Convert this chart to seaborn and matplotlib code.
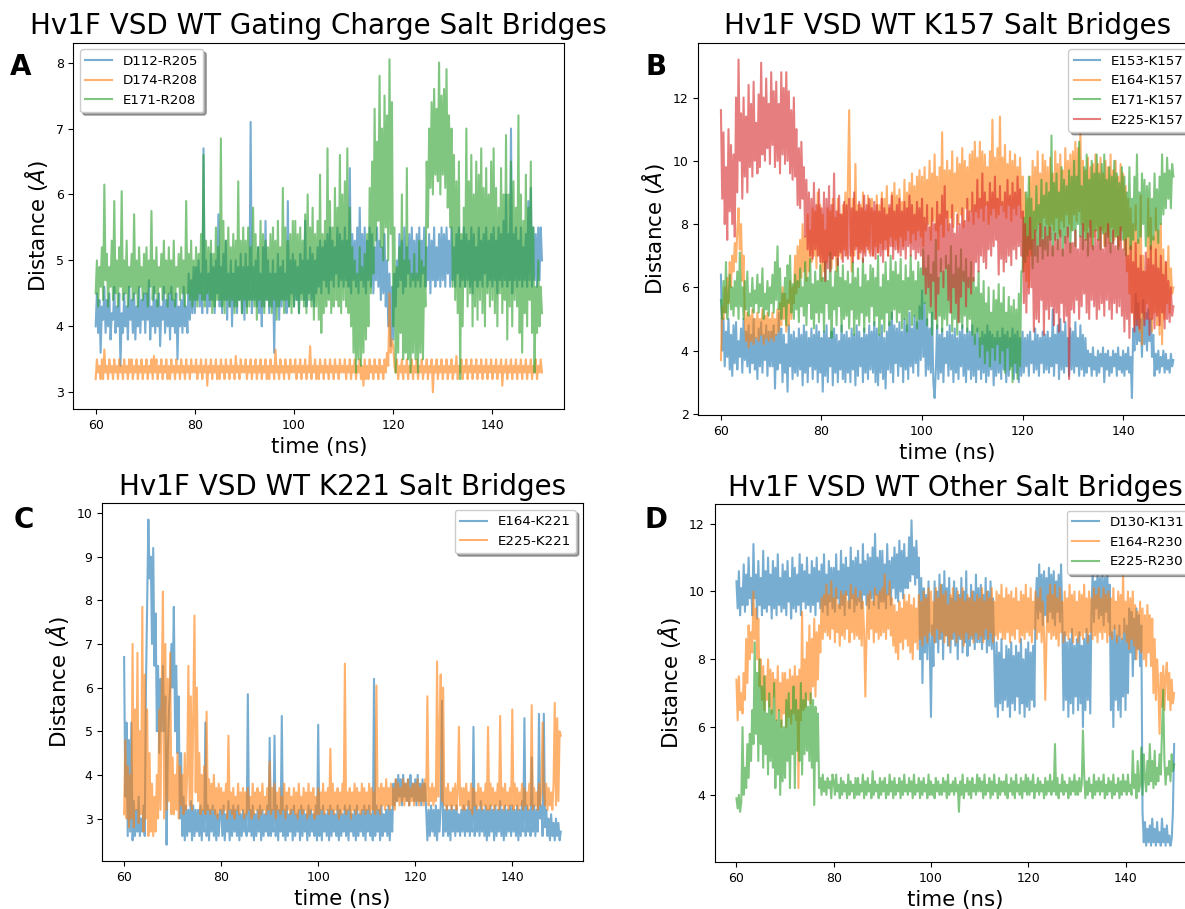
import numpy as np
import pandas as pd
import matplotlib
matplotlib.use("Agg")
import matplotlib.pyplot as plt
from matplotlib.lines import Line2D
import seaborn as sns

# Salt-bridge distances (Å), one value every 0.25 ns from 60 to 150 ns
# (each row below covers 5 ns).

# --- Panel A: gating charge salt bridges ---
d112_r205 = [
    4.0, 4.5, 3.9, 4.4, 3.6, 4.3, 4.1, 4.6, 3.9, 4.4, 4.0, 4.5, 3.8, 4.2, 4.1, 4.6, 3.9, 4.3, 4.0, 4.5,
    3.4, 4.2, 3.9, 4.5, 4.0, 4.3, 3.8, 4.6, 4.1, 4.4, 3.9, 4.5, 3.8, 4.3, 4.0, 4.6, 3.9, 4.4, 4.1, 4.5,
    3.9, 4.5, 4.1, 4.7, 3.8, 4.3, 4.0, 4.6, 3.9, 4.4, 4.0, 4.5, 3.7, 4.3, 4.1, 4.6, 3.9, 4.4, 4.0, 4.5,
    3.8, 4.6, 4.0, 4.4, 3.9, 4.5, 3.5, 4.3, 4.0, 4.4, 3.9, 4.6, 4.0, 4.3, 3.9, 4.8, 4.1, 4.7, 4.2, 4.9,
    4.2, 4.9, 4.4, 5.0, 4.3, 4.8, 4.2, 6.7, 4.4, 5.0, 4.2, 4.8, 4.3, 5.1, 4.4, 4.9, 4.2, 5.0, 4.5, 5.7,
    4.3, 4.9, 4.2, 5.1, 4.4, 5.3, 4.1, 4.8, 4.3, 5.0, 4.0, 4.8, 4.3, 5.0, 4.2, 4.9, 4.4, 5.1, 4.2, 4.9,
    4.1, 5.1, 4.3, 4.9, 4.4, 7.1, 4.2, 4.9, 4.4, 5.0, 4.3, 5.2, 4.2, 4.8, 4.0, 5.2, 4.3, 5.6, 4.4, 5.0,
    4.2, 4.8, 4.3, 5.0, 3.6, 4.8, 4.3, 5.1, 4.1, 4.9, 4.3, 5.0, 4.4, 4.8, 4.2, 5.9, 4.3, 5.0, 4.5, 5.1,
    4.3, 5.0, 4.4, 4.9, 4.2, 5.1, 4.5, 5.0, 4.4, 5.6, 4.3, 5.0, 4.5, 5.2, 4.4, 5.1, 4.3, 5.0, 4.5, 5.2,
    4.6, 5.3, 4.5, 5.2, 4.7, 5.3, 4.6, 5.4, 4.5, 5.5, 4.7, 5.3, 4.6, 5.2, 4.8, 5.5, 4.6, 5.4, 4.7, 5.3,
    4.6, 5.5, 4.7, 5.3, 4.6, 6.4, 4.5, 5.4, 4.7, 5.3, 4.6, 5.5, 4.5, 5.8, 4.7, 5.4, 4.6, 5.5, 4.5, 5.3,
    4.7, 5.5, 4.6, 5.4, 4.5, 5.2, 4.7, 5.5, 4.6, 5.3, 4.4, 5.2, 4.5, 5.4, 4.3, 5.0, 4.0, 4.8, 3.7, 4.6,
    3.8, 4.8, 4.3, 5.0, 4.6, 5.4, 4.7, 5.3, 4.5, 5.5, 4.6, 5.2, 4.8, 5.4, 4.6, 5.5, 4.7, 5.3, 4.6, 5.4,
    4.7, 5.5, 4.6, 5.3, 4.8, 5.5, 4.6, 5.2, 4.7, 5.4, 4.5, 5.3, 4.7, 5.5, 4.6, 5.2, 4.7, 5.4, 4.6, 5.5,
    4.7, 5.4, 4.6, 5.5, 4.8, 5.3, 4.6, 5.5, 4.7, 5.2, 4.6, 5.4, 4.8, 5.5, 4.6, 5.3, 4.7, 5.5, 4.6, 5.4,
    4.7, 5.3, 4.6, 5.5, 4.5, 5.4, 4.7, 5.2, 4.6, 5.5, 4.7, 5.3, 4.6, 5.4, 4.8, 5.5, 4.6, 5.3, 4.7, 5.4,
    4.6, 5.5, 4.7, 5.3, 4.5, 5.5, 4.7, 5.4, 4.6, 5.6, 4.7, 6.0, 4.6, 5.4, 4.7, 7.0, 4.5, 5.4, 4.7, 5.5,
    4.6, 5.3, 4.7, 5.5, 4.6, 5.2, 4.7, 5.4, 4.6, 5.9, 4.7, 6.1, 4.6, 5.5, 4.7, 5.4, 4.6, 5.5, 4.7, 5.5,
    5.0,
]
d174_r208 = [
    3.2, 3.5, 3.3, 3.4, 3.2, 3.5, 3.2, 3.65, 3.3, 3.4, 3.2, 3.5, 3.3, 3.4, 3.2, 3.5, 3.3, 3.4, 3.2, 3.5,
    3.3, 3.4, 3.2, 3.5, 3.3, 3.4, 3.2, 3.5, 3.3, 3.5, 3.2, 3.4, 3.3, 3.5, 3.2, 3.4, 3.3, 3.5, 3.2, 3.4,
    3.3, 3.5, 3.2, 3.4, 3.3, 3.5, 3.2, 3.55, 3.3, 3.5, 3.2, 3.4, 3.3, 3.5, 3.2, 3.4, 3.3, 3.5, 3.2, 3.4,
    3.2, 3.5, 3.3, 3.4, 3.2, 3.5, 3.3, 3.4, 3.2, 3.5, 3.3, 3.4, 3.2, 3.5, 3.3, 3.4, 3.2, 3.5, 3.3, 3.4,
    3.3, 3.5, 3.2, 3.4, 3.3, 3.5, 3.2, 3.4, 3.3, 3.5, 3.1, 3.4, 3.3, 3.5, 3.2, 3.4, 3.3, 3.5, 3.2, 3.4,
    3.2, 3.5, 3.3, 3.4, 3.2, 3.5, 3.3, 3.4, 3.2, 3.5, 3.3, 3.4, 3.2, 3.55, 3.3, 3.4, 3.2, 3.5, 3.3, 3.4,
    3.3, 3.5, 3.2, 3.4, 3.3, 3.5, 3.2, 3.4, 3.3, 3.5, 3.2, 3.4, 3.3, 3.5, 3.2, 3.4, 3.3, 3.5, 3.2, 3.4,
    3.2, 3.5, 3.3, 3.4, 3.2, 3.65, 3.3, 3.4, 3.2, 3.5, 3.3, 3.4, 3.2, 3.5, 3.3, 3.4, 3.2, 3.5, 3.3, 3.4,
    3.3, 3.5, 3.2, 3.4, 3.3, 3.5, 3.2, 3.4, 3.3, 3.5, 3.2, 3.4, 3.3, 3.7, 3.2, 3.4, 3.3, 3.5, 3.2, 3.4,
    3.2, 3.5, 3.3, 3.4, 3.2, 3.5, 3.3, 3.4, 3.2, 3.5, 3.3, 3.4, 3.2, 3.5, 3.3, 3.4, 3.2, 3.5, 3.3, 3.4,
    3.3, 3.5, 3.2, 3.4, 3.3, 3.5, 3.2, 3.4, 3.3, 3.5, 3.2, 3.4, 3.3, 3.5, 3.2, 3.4, 3.1, 3.5, 3.2, 3.4,
    3.2, 3.5, 3.3, 3.4, 3.2, 3.5, 3.3, 3.4, 3.2, 3.5, 3.3, 3.4, 3.2, 3.5, 3.3, 3.6, 3.4, 4.5, 3.6, 3.8,
    3.7, 3.4, 3.3, 3.5, 3.2, 3.4, 3.3, 3.5, 3.2, 3.4, 3.3, 3.5, 3.2, 3.4, 3.3, 3.5, 3.2, 3.4, 3.3, 3.5,
    3.2, 3.4, 3.3, 3.5, 3.2, 3.4, 3.3, 3.5, 3.2, 3.4, 3.3, 3.5, 3.0, 3.4, 3.3, 3.5, 3.2, 3.4, 3.3, 3.5,
    3.2, 3.4, 3.3, 3.5, 3.2, 3.4, 3.3, 3.5, 3.2, 3.4, 3.3, 3.55, 3.2, 3.4, 3.3, 3.5, 3.2, 3.4, 3.3, 3.5,
    3.2, 3.4, 3.3, 3.5, 3.2, 3.4, 3.3, 3.5, 3.2, 3.4, 3.3, 3.5, 3.2, 3.4, 3.3, 3.5, 3.2, 3.4, 3.3, 3.5,
    3.2, 3.4, 3.3, 3.5, 3.2, 3.4, 3.3, 3.5, 3.1, 3.4, 3.3, 3.5, 3.2, 3.4, 3.3, 3.5, 3.2, 3.4, 3.3, 3.5,
    3.2, 3.4, 3.3, 3.5, 3.2, 3.4, 3.3, 3.5, 3.2, 3.4, 3.3, 3.5, 3.2, 3.4, 3.3, 3.5, 3.2, 3.4, 3.3, 3.5,
    3.3,
]
e171_r208 = [
    4.5, 5.0, 4.3, 4.9, 4.6, 5.2, 4.4, 6.15, 4.7, 5.1, 4.3, 4.9, 4.6, 5.3, 4.4, 5.9, 4.5, 5.0, 4.3, 5.2,
    4.6, 6.05, 4.4, 5.0, 4.5, 5.3, 4.3, 4.9, 4.6, 5.1, 4.4, 5.7, 4.5, 5.0, 4.3, 5.2, 4.6, 4.9, 4.4, 5.1,
    4.5, 5.2, 4.3, 5.0, 4.6, 5.75, 4.4, 5.0, 4.5, 5.2, 4.3, 4.9, 4.6, 5.1, 4.4, 5.3, 4.5, 5.0, 4.3, 5.2,
    4.5, 5.0, 4.4, 5.3, 4.3, 4.9, 4.6, 5.1, 4.4, 5.2, 4.5, 5.0, 4.3, 5.9, 4.5, 5.1, 4.4, 5.3, 4.3, 5.0,
    4.4, 5.2, 4.3, 5.1, 4.5, 5.4, 4.4, 6.6, 4.3, 5.3, 4.5, 5.2, 4.4, 5.3, 4.2, 5.1, 4.3, 5.5, 4.4, 5.2,
    4.4, 6.85, 4.3, 5.6, 4.2, 5.3, 4.4, 5.5, 4.3, 5.2, 4.4, 5.4, 4.2, 5.3, 4.3, 6.2, 4.4, 5.3, 4.2, 5.5,
    4.4, 5.3, 4.2, 5.5, 4.3, 5.2, 4.4, 5.8, 4.3, 5.4, 4.1, 5.2, 4.4, 5.6, 4.3, 5.4, 4.2, 5.3, 4.4, 5.2,
    4.3, 5.4, 4.2, 5.5, 4.4, 5.3, 4.1, 5.6, 4.3, 5.2, 4.4, 6.1, 4.2, 5.5, 4.4, 5.3, 4.3, 5.4, 4.2, 5.6,
    4.3, 5.6, 4.4, 5.4, 4.2, 5.5, 4.4, 5.3, 4.3, 5.7, 4.2, 6.0, 4.4, 5.5, 4.3, 5.8, 4.1, 5.4, 4.3, 5.6,
    4.1, 6.3, 3.9, 5.4, 4.2, 5.6, 4.3, 6.7, 4.4, 5.9, 4.2, 5.5, 4.3, 6.1, 4.4, 5.8, 4.3, 6.6, 4.2, 6.0,
    4.4, 6.2, 4.3, 6.7, 4.2, 5.8, 4.0, 5.2, 3.6, 5.0, 3.3, 4.8, 3.5, 5.2, 3.4, 4.9, 3.6, 5.1, 3.8, 5.4,
    4.0, 6.1, 4.5, 6.5, 4.8, 7.3, 5.3, 6.8, 5.6, 7.8, 5.2, 7.0, 5.0, 7.5, 5.5, 7.2, 5.0, 8.05, 5.4, 7.4,
    4.0, 5.5, 3.3, 4.9, 3.6, 5.2, 3.9, 6.0, 3.5, 5.0, 3.6, 6.4, 3.5, 5.0, 3.3, 4.8, 3.6, 5.1, 3.5, 4.8,
    3.3, 5.3, 3.6, 5.0, 3.5, 4.9, 4.3, 6.5, 5.5, 7.0, 6.1, 7.4, 6.0, 7.6, 6.3, 7.3, 6.2, 8.0, 6.0, 7.5,
    6.3, 7.6, 6.1, 7.9, 5.8, 7.2, 5.5, 7.0, 4.6, 6.6, 4.4, 6.2, 4.2, 6.5, 3.2, 5.4, 4.0, 5.8, 4.6, 7.0,
    4.3, 6.2, 4.5, 6.6, 4.0, 6.0, 4.3, 6.5, 4.1, 6.3, 4.4, 6.7, 4.2, 6.1, 4.0, 6.4, 4.5, 6.0, 4.3, 6.5,
    4.4, 6.7, 4.2, 6.1, 4.0, 5.8, 4.5, 6.4, 4.2, 6.0, 4.4, 6.9, 3.8, 6.0, 4.3, 6.5, 4.0, 6.2, 4.4, 5.8,
    4.3, 7.2, 3.9, 6.0, 3.6, 5.6, 4.2, 6.3, 4.0, 5.8, 4.4, 6.5, 3.9, 5.5, 3.3, 4.6, 3.9, 5.0, 4.0, 4.6,
    4.2,
]

# --- Panel B: K157 salt bridges ---
e153_k157 = [
    6.4, 4.0, 5.0, 3.5, 4.6, 3.8, 5.0, 3.4, 4.5, 3.2, 4.8, 3.6, 4.9, 3.4, 4.3, 3.8, 4.7, 3.3, 5.0, 3.7,
    4.6, 3.5, 4.8, 3.3, 4.5, 3.6, 5.0, 3.4, 4.4, 3.1, 4.7, 3.5, 4.9, 3.3, 4.5, 3.7, 4.8, 3.2, 4.6, 3.5,
    4.6, 3.5, 4.8, 2.8, 4.5, 3.4, 5.2, 3.6, 4.7, 3.0, 4.5, 3.3, 4.2, 2.7, 4.8, 3.5, 4.5, 3.1, 4.6, 3.3,
    4.4, 3.2, 4.7, 3.4, 4.5, 2.9, 4.8, 3.3, 4.6, 3.0, 4.4, 3.5, 4.7, 3.1, 4.5, 3.4, 4.8, 3.0, 4.6, 3.3,
    4.4, 2.7, 4.6, 3.2, 4.8, 3.0, 4.4, 3.5, 4.6, 2.9, 4.7, 3.3, 4.5, 3.0, 4.3, 3.4, 4.8, 3.1, 4.5, 3.0,
    4.6, 3.3, 4.4, 3.0, 4.7, 3.4, 4.5, 2.9, 4.8, 3.2, 4.6, 3.5, 4.4, 3.0, 4.7, 3.3, 4.5, 3.1, 4.8, 3.4,
    4.6, 3.3, 4.9, 3.0, 4.7, 2.9, 4.5, 3.3, 4.8, 3.1, 4.4, 2.8, 4.6, 3.4, 4.9, 3.3, 5.2, 3.0, 4.8, 3.6,
    4.7, 3.2, 4.9, 3.5, 4.6, 3.0, 5.0, 3.4, 4.8, 3.1, 5.2, 3.5, 4.7, 3.3, 5.1, 3.6, 4.9, 3.2, 5.4, 3.7,
    5.9, 3.8, 5.5, 3.2, 5.0, 3.4, 4.7, 3.3, 5.2, 3.0, 2.5, 3.4, 4.8, 3.1, 4.5, 3.3, 4.7, 3.0, 4.4, 3.6,
    4.6, 3.2, 4.8, 3.4, 4.5, 3.0, 4.7, 3.3, 4.4, 3.1, 4.6, 3.5, 4.8, 3.2, 4.5, 3.0, 4.7, 3.4, 4.6, 3.1,
    4.8, 3.2, 4.5, 3.0, 4.7, 3.4, 4.4, 3.1, 4.6, 3.3, 4.5, 3.0, 4.8, 3.2, 4.6, 3.4, 4.5, 2.9, 4.4, 3.2,
    4.6, 3.3, 4.4, 3.1, 4.7, 3.4, 4.5, 3.0, 4.6, 3.2, 4.4, 3.5, 4.7, 3.1, 4.5, 3.3, 4.6, 3.0, 4.4, 3.2,
    4.6, 3.3, 4.4, 3.5, 4.5, 3.2, 4.6, 3.6, 4.3, 3.3, 4.7, 3.4, 4.5, 3.2, 4.4, 3.6, 4.6, 3.3, 4.5, 3.4,
    4.6, 3.3, 4.4, 3.5, 5.3, 3.2, 4.5, 3.6, 4.8, 3.1, 5.0, 3.4, 4.6, 3.3, 4.9, 3.5, 4.4, 3.2, 4.7, 3.4,
    4.6, 3.3, 4.9, 3.5, 4.4, 3.2, 4.8, 3.4, 4.5, 3.2, 4.4, 3.3, 4.0, 3.5, 3.9, 3.2, 4.1, 3.4, 3.8, 3.2,
    4.0, 3.3, 3.9, 3.5, 4.1, 3.0, 3.9, 3.4, 4.0, 3.2, 3.8, 3.3, 4.0, 3.5, 3.9, 3.2, 4.1, 3.4, 3.8, 3.3,
    4.0, 3.2, 3.9, 3.4, 4.1, 3.3, 3.8, 2.5, 4.7, 4.0, 5.8, 4.2, 5.5, 4.3, 5.0, 3.8, 5.6, 4.2, 5.2, 4.0,
    5.3, 4.3, 5.0, 3.8, 4.5, 3.2, 3.9, 3.4, 4.0, 3.3, 3.8, 3.5, 4.0, 3.3, 3.9, 3.4, 3.7, 3.3, 3.9, 3.5,
    3.7,
]
e164_k157 = [
    3.7, 5.4, 5.0, 6.0, 5.2, 6.3, 5.5, 6.8, 6.0, 7.0, 6.5, 7.4, 6.8, 7.8, 8.5, 7.2, 8.0, 6.2, 7.0, 5.0,
    4.3, 5.2, 4.1, 5.1, 4.3, 5.3, 4.2, 5.0, 4.4, 5.2, 4.3, 5.0, 4.5, 5.3, 4.2, 5.1, 4.4, 5.2, 4.3, 5.0,
    4.4, 5.2, 4.3, 5.0, 4.5, 5.3, 4.6, 5.5, 4.8, 6.0, 5.0, 5.8, 4.6, 5.6, 4.8, 6.2, 5.0, 6.0, 5.5, 7.0,
    5.8, 7.3, 6.0, 7.5, 6.3, 8.0, 6.5, 7.6, 6.2, 8.3, 6.5, 7.8, 6.8, 8.5, 7.0, 8.4, 6.6, 9.0, 7.0, 8.6,
    6.2, 8.3, 6.5, 7.8, 6.8, 8.5, 7.0, 8.4, 6.6, 8.8, 7.0, 8.2, 6.5, 8.8, 7.0, 8.3, 6.9, 8.6, 7.2, 9.0,
    7.0, 9.2, 11.6, 8.2, 6.5, 8.8, 7.0, 9.9, 7.3, 8.6, 6.9, 8.6, 7.2, 9.0, 7.1, 8.4, 7.3, 8.9, 7.1, 8.6,
    8.8, 7.0, 8.4, 7.3, 8.9, 7.1, 8.6, 7.4, 9.0, 7.2, 8.8, 7.5, 9.2, 7.0, 8.5, 7.6, 9.0, 7.3, 9.3, 7.5,
    8.9, 7.2, 9.1, 7.6, 8.7, 7.3, 9.4, 7.5, 9.0, 7.8, 9.3, 7.4, 9.6, 7.7, 9.2, 7.5, 9.5, 7.8, 9.7, 7.6,
    9.5, 7.3, 9.8, 7.8, 9.4, 8.0, 10.0, 7.5, 9.6, 8.1, 10.2, 7.8, 9.5, 7.2, 9.8, 8.0, 10.9, 7.6, 9.7, 8.2,
    10.0, 7.8, 9.7, 8.2, 10.3, 7.9, 9.6, 8.4, 10.1, 8.0, 9.9, 8.3, 10.4, 7.9, 10.0, 8.5, 9.8, 8.1, 10.2, 8.4,
    10.3, 8.0, 10.6, 8.4, 10.1, 8.2, 10.6, 8.5, 10.3, 8.1, 10.2, 8.6, 9.8, 8.0, 10.3, 8.3, 11.3, 8.5, 10.1, 8.2,
    10.4, 8.3, 11.4, 8.6, 10.1, 8.4, 10.5, 8.2, 9.9, 8.6, 10.3, 8.1, 10.0, 8.5, 10.2, 8.3, 9.8, 8.6, 10.1, 8.2,
    9.5, 6.5, 9.0, 6.2, 8.8, 6.0, 9.5, 7.0, 10.0, 7.5, 9.8, 7.8, 10.3, 8.0, 9.6, 7.6, 10.2, 8.2, 10.0, 8.0,
    9.8, 7.6, 10.1, 8.0, 9.6, 7.8, 10.3, 8.2, 9.9, 7.7, 10.2, 8.1, 9.7, 7.9, 10.4, 8.3, 10.0, 8.0, 10.2, 7.8,
    10.3, 8.3, 10.6, 8.1, 10.4, 8.4, 11.0, 8.0, 10.0, 7.8, 9.7, 7.5, 10.1, 7.9, 9.8, 7.3, 9.9, 7.6, 10.2, 7.8,
    9.9, 7.5, 10.1, 7.8, 9.6, 7.3, 10.0, 7.7, 9.8, 7.4, 10.2, 7.9, 9.7, 7.5, 10.0, 7.6, 9.5, 7.3, 9.9, 7.8,
    9.6, 7.2, 9.2, 6.5, 8.8, 5.8, 8.5, 5.2, 8.0, 4.8, 8.6, 5.0, 7.5, 4.6, 8.9, 4.2, 7.0, 5.0, 6.5, 5.5,
    8.8, 5.0, 8.2, 4.6, 7.6, 5.2, 8.5, 4.8, 7.8, 4.5, 8.0, 4.2, 7.2, 5.0, 6.8, 5.5, 7.3, 5.2, 6.6, 5.8,
    6.0,
]
e171_k157 = [
    5.6, 5.0, 6.2, 5.2, 6.8, 5.0, 5.6, 6.4, 5.3, 6.0, 5.1, 6.2, 5.4, 6.5, 5.0, 7.1, 5.4, 6.0, 5.0, 6.2,
    5.3, 6.5, 5.1, 5.8, 5.4, 6.3, 5.2, 5.9, 5.5, 6.4, 5.2, 6.1, 5.4, 6.6, 5.0, 5.8, 5.3, 6.2, 5.1, 6.0,
    5.5, 6.4, 5.2, 6.8, 5.6, 7.3, 5.3, 6.6, 5.0, 5.8, 5.4, 6.3, 4.8, 6.7, 5.5, 7.0, 5.2, 6.1, 5.0, 6.4,
    5.3, 6.2, 4.9, 6.6, 5.4, 6.0, 5.1, 6.8, 4.8, 6.3, 5.5, 6.9, 5.0, 6.1, 4.7, 6.5, 5.2, 6.2, 4.9, 6.7,
    5.2, 6.3, 4.6, 6.8, 5.5, 6.2, 5.0, 7.1, 4.4, 6.0, 5.3, 6.5, 4.8, 6.9, 5.4, 6.3, 4.6, 6.7, 5.0, 6.2,
    5.1, 6.5, 4.7, 6.1, 5.3, 6.8, 4.5, 6.3, 5.0, 6.6, 4.8, 6.0, 5.2, 6.9, 4.6, 6.4, 5.1, 6.2, 4.9, 6.7,
    5.4, 6.6, 4.8, 6.3, 5.1, 7.0, 4.5, 6.0, 5.0, 6.4, 4.6, 6.8, 5.2, 6.2, 4.8, 7.0, 5.0, 6.5, 5.3, 6.8,
    4.9, 6.4, 5.2, 6.9, 4.7, 6.2, 5.0, 6.7, 4.6, 6.3, 5.3, 7.0, 4.8, 6.5, 5.1, 6.2, 4.7, 6.8, 5.0, 6.6,
    5.0, 7.2, 5.5, 6.6, 4.8, 7.0, 5.2, 6.4, 4.5, 6.8, 5.0, 7.5, 4.7, 6.3, 5.1, 6.9, 4.6, 6.5, 5.0, 7.0,
    4.8, 6.7, 5.2, 7.3, 4.6, 6.4, 5.0, 7.0, 4.5, 6.6, 4.9, 7.2, 4.7, 6.5, 5.1, 6.9, 4.6, 6.3, 5.0, 6.8,
    4.5, 6.3, 4.2, 6.0, 4.6, 6.5, 3.8, 5.8, 4.2, 6.2, 3.6, 5.5, 4.0, 6.0, 3.5, 5.2, 4.1, 5.9, 3.7, 5.6,
    4.2, 6.1, 3.6, 5.5, 4.0, 6.0, 3.3, 5.2, 4.1, 5.7, 3.4, 5.4, 3.0, 5.6, 3.6, 5.3, 3.1, 5.8, 3.5, 6.5,
    6.5, 8.2, 6.8, 9.0, 7.0, 9.5, 7.2, 8.8, 6.6, 8.4, 7.0, 9.2, 6.8, 8.6, 7.3, 9.4, 6.9, 8.9, 7.2, 9.3,
    7.0, 9.0, 7.5, 10.8, 7.0, 9.3, 7.5, 9.6, 7.2, 9.0, 7.6, 9.8, 7.0, 9.4, 7.4, 9.2, 7.6, 9.7, 7.1, 9.5,
    7.8, 10.0, 7.3, 9.5, 8.0, 10.6, 7.6, 9.2, 7.2, 9.8, 7.5, 10.2, 7.0, 9.4, 7.6, 10.0, 7.2, 9.6, 7.8, 10.2,
    7.5, 9.6, 7.2, 9.9, 7.7, 10.2, 7.3, 9.4, 7.6, 9.8, 7.1, 9.5, 7.4, 10.0, 7.6, 9.6, 7.2, 9.3, 7.5, 9.8,
    7.5, 9.5, 7.0, 9.0, 7.6, 9.8, 7.2, 8.8, 7.5, 9.5, 7.8, 10.2, 7.4, 9.0, 7.6, 9.6, 8.0, 9.4, 7.3, 9.2,
    7.6, 9.3, 7.2, 8.8, 7.5, 9.6, 7.8, 9.1, 7.4, 9.5, 8.0, 10.2, 8.3, 9.6, 8.5, 10.1, 8.8, 9.7, 8.5, 9.9,
    9.5,
]
e225_k157 = [
    11.6, 8.8, 10.9, 8.0, 9.8, 7.5, 11.0, 8.4, 10.5, 8.0, 10.2, 7.6, 12.0, 9.0, 13.2, 10.0, 11.5, 8.8, 12.0, 9.5,
    11.4, 9.0, 12.4, 9.8, 11.8, 9.5, 12.5, 10.0, 11.2, 9.6, 12.1, 9.8, 13.1, 10.2, 12.0, 10.0, 12.6, 10.4, 11.8, 9.9,
    12.8, 10.5, 12.2, 9.8, 12.5, 10.0, 11.8, 9.6, 12.8, 10.2, 12.3, 9.9, 12.8, 10.0, 12.2, 9.6, 11.6, 9.4, 12.0, 9.5,
    11.0, 8.6, 10.4, 8.5, 10.6, 8.8, 9.8, 7.6, 9.4, 7.2, 9.0, 7.0, 8.8, 6.9, 9.3, 7.2, 8.6, 7.0, 9.1, 6.8,
    8.5, 6.8, 9.0, 6.2, 8.8, 6.6, 9.2, 6.5, 8.6, 6.9, 9.6, 7.0, 8.4, 6.7, 8.9, 7.1, 8.3, 6.8, 8.7, 7.0,
    8.6, 6.9, 8.8, 7.0, 8.5, 6.8, 9.0, 7.2, 8.4, 6.9, 8.7, 7.1, 8.5, 6.8, 8.9, 7.0, 8.6, 7.2, 8.8, 7.0,
    8.5, 7.0, 8.7, 6.9, 8.6, 7.1, 8.4, 7.0, 8.8, 6.8, 8.5, 7.2, 8.3, 7.0, 8.6, 7.3, 8.9, 6.9, 8.4, 7.2,
    8.6, 7.1, 8.8, 7.0, 8.4, 7.2, 8.7, 6.9, 8.5, 7.3, 8.9, 7.0, 8.6, 7.2, 8.3, 6.9, 8.7, 7.1, 8.5, 7.0,
    8.8, 6.4, 8.2, 5.8, 8.6, 6.0, 7.9, 5.4, 8.5, 6.2, 8.0, 5.0, 8.7, 5.8, 8.3, 6.5, 8.9, 6.0, 9.2, 6.6,
    8.4, 5.6, 8.0, 5.2, 8.6, 6.0, 7.7, 5.5, 8.3, 4.9, 8.0, 5.7, 8.5, 6.2, 8.1, 5.4, 8.8, 6.0, 8.4, 5.8,
    9.0, 6.2, 8.6, 6.8, 9.4, 6.5, 8.8, 7.0, 9.6, 6.8, 9.0, 6.6, 8.7, 7.2, 9.3, 7.0, 9.0, 7.3, 9.5, 7.5,
    8.8, 6.4, 9.2, 6.9, 8.7, 6.5, 9.0, 6.8, 9.4, 7.0, 8.9, 6.7, 9.3, 7.2, 9.0, 6.9, 9.5, 7.3, 9.1, 7.0,
    8.4, 5.5, 8.0, 5.2, 7.6, 5.8, 8.2, 6.0, 7.5, 4.6, 7.8, 5.0, 7.3, 4.9, 8.0, 5.6, 7.5, 4.5, 7.9, 5.3,
    7.6, 5.0, 7.9, 5.4, 7.3, 4.8, 7.7, 5.2, 7.5, 4.6, 7.8, 5.5, 7.2, 4.9, 7.6, 5.1, 7.9, 3.1, 7.4, 5.3,
    7.4, 5.2, 7.8, 5.6, 7.2, 5.0, 7.6, 5.4, 8.0, 5.8, 7.5, 5.2, 7.7, 5.0, 8.1, 5.6, 7.3, 5.4, 7.8, 5.0,
    7.5, 5.3, 7.9, 5.5, 7.2, 5.1, 7.7, 5.6, 8.0, 5.3, 7.4, 5.0, 7.8, 5.5, 7.3, 5.2, 7.6, 5.4, 7.9, 5.1,
    7.2, 4.6, 7.5, 5.0, 7.0, 4.4, 7.3, 5.2, 6.8, 4.6, 7.4, 4.8, 6.6, 4.7, 7.0, 5.2, 6.5, 4.8, 7.1, 5.0,
    6.9, 4.5, 7.3, 5.0, 6.7, 4.7, 7.2, 5.1, 6.6, 4.8, 7.0, 5.2, 6.4, 4.7, 6.8, 5.0, 6.2, 4.9, 6.0, 5.1,
    5.4,
]

# --- Panel C: K221 salt bridges ---
e164_k221 = [
    6.7, 3.5, 5.2, 2.6, 4.8, 2.7, 5.2, 2.5, 3.4, 2.6, 3.2, 2.7, 3.5, 2.6, 3.0, 2.7, 3.3, 2.6, 6.0, 8.0,
    9.85, 8.5, 9.0, 7.0, 9.2, 6.5, 7.7, 5.0, 6.5, 4.5, 6.2, 5.0, 6.5, 5.0, 5.8, 2.4, 4.5, 5.5, 6.0, 7.0,
    6.0, 7.85, 5.0, 6.5, 4.5, 5.8, 3.0, 4.5, 2.6, 3.5, 2.5, 3.3, 2.6, 3.2, 2.7, 3.4, 2.5, 3.3, 2.6, 3.2,
    2.7, 3.2, 2.6, 3.3, 2.5, 3.2, 2.7, 5.2, 2.6, 3.3, 2.5, 3.2, 2.7, 3.3, 2.6, 3.2, 2.5, 3.1, 2.6, 3.2,
    3.2, 2.6, 3.3, 2.5, 3.1, 2.7, 3.4, 2.5, 3.2, 2.6, 3.3, 2.7, 3.2, 2.6, 3.3, 2.5, 3.1, 2.6, 3.2, 2.7,
    3.1, 2.6, 5.85, 2.7, 3.2, 2.6, 3.3, 2.5, 3.1, 2.6, 3.2, 2.7, 3.3, 2.5, 3.2, 2.6, 3.1, 2.7, 3.3, 2.6,
    4.85, 2.6, 3.2, 2.7, 4.9, 2.6, 3.3, 2.5, 3.2, 2.7, 5.35, 2.6, 3.2, 2.5, 3.3, 2.6, 3.1, 2.7, 3.2, 2.5,
    3.3, 2.6, 3.1, 2.7, 3.2, 2.5, 3.3, 2.6, 3.2, 2.7, 3.1, 2.5, 3.3, 2.6, 3.2, 2.7, 3.1, 2.6, 3.3, 2.5,
    5.15, 2.6, 3.2, 2.5, 3.3, 2.7, 3.1, 2.6, 3.2, 2.5, 3.3, 2.6, 3.2, 2.7, 3.1, 2.6, 3.3, 2.5, 3.2, 2.6,
    3.1, 2.7, 3.3, 2.6, 3.2, 2.5, 3.3, 2.7, 3.1, 2.6, 3.2, 2.5, 3.3, 2.6, 3.1, 2.7, 3.2, 2.6, 3.3, 2.5,
    3.2, 2.7, 3.3, 2.6, 3.1, 2.5, 6.2, 2.6, 3.3, 2.7, 3.2, 2.5, 3.3, 2.6, 3.1, 2.7, 3.2, 2.6, 3.3, 2.5,
    3.2, 2.7, 3.8, 3.3, 3.9, 3.4, 4.0, 3.5, 3.9, 3.3, 4.0, 3.5, 3.8, 3.4, 3.9, 3.3, 4.0, 3.5, 3.8, 3.4,
    3.9, 3.3, 4.0, 3.4, 3.8, 3.3, 3.9, 3.4, 3.8, 3.2, 2.5, 3.2, 2.6, 3.3, 2.7, 3.2, 2.6, 3.3, 2.5, 3.2,
    2.7, 3.3, 5.7, 2.6, 3.2, 2.7, 3.3, 2.6, 3.2, 2.5, 3.3, 2.7, 3.2, 2.6, 3.3, 2.7, 3.1, 2.6, 3.2, 2.7,
    3.3, 2.6, 3.2, 2.7, 3.4, 2.6, 3.2, 2.7, 5.1, 2.6, 3.3, 2.7, 3.2, 2.6, 3.4, 2.7, 3.2, 2.6, 3.3, 2.5,
    3.2, 2.6, 3.3, 2.7, 3.2, 2.5, 3.3, 2.6, 3.2, 2.7, 3.4, 2.6, 3.2, 2.5, 3.3, 2.6, 3.2, 2.7, 3.3, 2.6,
    3.3, 2.7, 3.2, 2.6, 3.3, 2.5, 3.2, 2.6, 3.4, 2.7, 5.3, 2.6, 3.3, 2.7, 3.2, 2.6, 4.4, 2.7, 3.3, 2.6,
    3.2, 2.7, 5.4, 3.0, 3.3, 2.6, 5.4, 2.8, 3.2, 2.6, 3.0, 2.5, 3.1, 2.6, 2.9, 2.5, 3.0, 2.6, 2.9, 2.5,
    2.7,
]
e225_k221 = [
    3.1, 4.8, 3.0, 4.2, 2.8, 4.0, 3.0, 7.0, 2.8, 5.5, 3.2, 6.8, 2.9, 5.0, 3.1, 7.85, 2.7, 6.3, 3.0, 5.5,
    2.6, 4.5, 2.7, 3.8, 2.6, 3.5, 2.7, 4.0, 3.0, 5.5, 3.2, 6.0, 8.2, 3.0, 7.0, 3.2, 6.2, 3.4, 6.8, 3.1,
    4.4, 3.1, 4.0, 3.2, 4.5, 3.0, 4.2, 3.3, 4.0, 3.1, 4.5, 3.2, 4.0, 6.5, 3.3, 5.8, 3.2, 5.5, 7.65, 3.6,
    6.0, 3.4, 4.5, 3.1, 4.0, 3.2, 4.2, 3.1, 5.45, 3.2, 3.9, 3.1, 3.8, 3.2, 4.0, 3.1, 3.7, 3.0, 3.8, 3.2,
    3.7, 3.1, 3.6, 3.2, 3.8, 3.0, 4.9, 3.2, 3.6, 3.1, 3.7, 3.0, 3.5, 3.2, 3.8, 3.1, 3.6, 3.2, 3.7, 3.0,
    3.6, 3.1, 3.7, 3.2, 3.5, 3.0, 3.8, 3.1, 3.6, 3.2, 3.7, 3.0, 3.6, 3.1, 3.8, 3.2, 3.5, 3.1, 3.7, 3.2,
    4.3, 3.1, 3.7, 3.2, 3.8, 3.0, 3.6, 3.2, 3.7, 3.1, 3.5, 3.2, 3.8, 3.0, 3.6, 3.2, 3.7, 3.1, 3.5, 3.2,
    3.7, 3.1, 3.6, 3.0, 3.8, 3.2, 3.5, 3.1, 3.7, 3.2, 3.6, 3.0, 3.8, 3.1, 3.6, 3.2, 3.7, 3.0, 3.5, 3.1,
    3.7, 3.1, 3.6, 3.2, 3.8, 3.1, 3.6, 3.2, 3.7, 3.1, 4.6, 3.2, 3.8, 3.1, 3.6, 3.2, 3.7, 3.0, 3.6, 3.1,
    3.8, 3.2, 6.55, 3.1, 3.6, 3.2, 3.7, 3.0, 3.6, 3.2, 3.8, 3.1, 3.7, 3.2, 3.6, 3.1, 3.8, 3.2, 3.7, 3.1,
    3.6, 3.2, 3.8, 3.1, 3.7, 3.2, 3.6, 3.1, 6.05, 3.2, 3.7, 3.1, 3.8, 3.3, 3.7, 3.2, 3.9, 3.3, 3.7, 3.2,
    3.8, 3.3, 3.7, 3.2, 3.9, 3.4, 3.8, 3.3, 3.7, 3.4, 3.9, 3.3, 3.8, 3.4, 3.9, 3.3, 3.7, 3.4, 3.8, 3.3,
    3.8, 3.4, 3.9, 3.3, 3.7, 3.4, 3.8, 3.3, 3.9, 3.4, 5.8, 3.3, 3.7, 3.4, 3.8, 3.3, 3.7, 3.4, 6.6, 3.5,
    5.0, 6.3, 3.4, 6.0, 3.3, 3.7, 3.2, 3.8, 3.3, 3.6, 3.2, 3.7, 3.3, 3.8, 3.2, 3.6, 5.1, 3.3, 3.7, 3.2,
    3.7, 3.2, 3.8, 3.3, 3.6, 3.2, 3.8, 3.1, 3.7, 3.3, 3.6, 3.2, 3.8, 3.3, 3.7, 3.2, 3.6, 3.3, 3.8, 3.2,
    5.1, 3.2, 3.8, 3.3, 3.7, 3.2, 3.6, 3.3, 3.8, 3.2, 5.35, 3.3, 3.7, 3.2, 3.8, 3.3, 3.6, 3.2, 3.7, 3.3,
    5.5, 3.2, 3.8, 3.3, 3.7, 3.2, 3.6, 3.3, 3.8, 3.2, 3.7, 3.3, 3.6, 3.2, 3.8, 3.3, 5.6, 3.2, 3.7, 3.3,
    3.6, 3.2, 3.8, 3.3, 3.7, 5.2, 3.6, 3.3, 3.8, 3.2, 3.7, 3.3, 3.6, 3.2, 3.8, 5.65, 3.3, 5.3, 3.4, 5.0,
    4.9,
]

# --- Panel D: other salt bridges ---
d130_k131 = [
    10.3, 9.5, 10.6, 9.3, 10.1, 9.6, 10.8, 9.4, 10.5, 9.6, 11.0, 9.8, 10.4, 9.3, 11.4, 9.8, 10.5, 9.2, 10.9, 9.6,
    10.4, 9.3, 11.2, 9.5, 10.6, 9.4, 11.0, 9.6, 10.5, 9.2, 10.9, 9.5, 10.7, 9.3, 11.1, 9.6, 10.4, 9.4, 10.8, 9.5,
    10.6, 9.3, 10.9, 9.7, 10.4, 9.2, 11.0, 9.5, 10.7, 9.4, 10.5, 9.6, 11.1, 9.3, 10.8, 9.7, 10.6, 9.5, 11.0, 9.6,
    10.5, 9.4, 10.9, 9.6, 10.7, 9.3, 11.0, 9.7, 10.6, 9.5, 10.8, 9.4, 11.1, 9.6, 10.5, 9.3, 10.9, 9.7, 10.7, 9.5,
    10.7, 9.4, 11.1, 9.8, 10.6, 9.5, 11.2, 9.6, 10.8, 9.3, 11.0, 9.9, 10.7, 9.5, 11.3, 9.8, 10.9, 9.4, 11.0, 9.6,
    11.2, 9.7, 10.8, 9.5, 11.4, 9.9, 10.9, 9.6, 11.1, 9.5, 11.0, 9.8, 11.3, 9.6, 11.7, 9.9, 11.0, 9.5, 11.2, 9.7,
    11.2, 9.7, 10.8, 9.5, 11.4, 9.9, 10.9, 9.6, 11.0, 10.1, 11.3, 9.8, 11.1, 9.7, 11.5, 10.0, 11.2, 9.8, 11.4, 10.1,
    11.0, 10.1, 11.6, 10.3, 12.1, 10.5, 11.3, 10.2, 11.5, 10.4, 11.0, 8.0, 10.4, 7.3, 10.1, 8.2, 9.9, 8.0, 10.3, 8.4,
    6.3, 9.0, 7.8, 10.3, 8.5, 10.0, 8.2, 10.5, 8.6, 10.2, 8.0, 10.6, 8.7, 10.1, 8.4, 10.4, 8.2, 9.8, 8.6, 10.3,
    8.4, 10.1, 8.0, 9.9, 8.6, 10.4, 8.2, 10.0, 8.5, 10.6, 8.1, 9.8, 8.4, 10.2, 8.6, 10.0, 8.3, 10.5, 8.5, 10.1,
    8.5, 10.2, 8.3, 9.9, 8.6, 10.4, 8.2, 10.0, 8.4, 10.3, 8.3, 9.8, 8.2, 6.6, 8.5, 6.3, 8.2, 6.7, 8.6, 6.5,
    8.0, 6.8, 8.4, 6.6, 8.3, 6.3, 8.5, 6.7, 8.1, 6.5, 8.4, 6.9, 8.2, 6.4, 8.6, 6.7, 8.0, 6.3, 8.3, 6.6,
    8.5, 6.5, 8.2, 6.8, 8.4, 6.6, 9.5, 10.4, 9.2, 10.8, 9.4, 10.5, 9.0, 10.6, 9.3, 10.4, 9.1, 10.7, 9.4, 10.5,
    9.2, 10.6, 9.0, 10.3, 9.4, 10.5, 9.1, 10.8, 9.3, 6.5, 8.8, 6.8, 8.5, 6.3, 8.6, 6.7, 8.9, 6.4, 8.4, 6.9,
    8.6, 6.5, 8.8, 6.7, 8.4, 6.0, 8.6, 6.5, 8.9, 6.8, 8.7, 6.4, 9.4, 10.6, 9.1, 10.3, 9.5, 10.6, 9.2, 10.4,
    9.3, 10.5, 9.0, 10.4, 9.4, 10.6, 9.1, 10.2, 6.5, 8.8, 6.0, 9.0, 6.8, 8.7, 6.5, 9.0, 6.3, 8.6, 6.9, 9.2,
    6.5, 9.0, 7.0, 9.5, 8.2, 9.4, 7.5, 9.2, 8.0, 9.5, 8.3, 9.3, 7.8, 9.0, 3.5, 2.6, 3.2, 2.5, 3.0, 2.6,
    3.1, 2.5, 3.3, 2.6, 3.0, 2.5, 3.2, 2.6, 2.9, 2.5, 3.3, 2.6, 3.0, 2.5, 3.1, 2.6, 2.8, 2.5, 2.7, 3.5,
    5.5,
]
e164_r230 = [
    7.4, 6.2, 7.5, 6.5, 7.0, 6.4, 7.6, 6.8, 8.6, 7.3, 9.0, 8.0, 8.8, 8.2, 10.0, 8.6, 9.5, 8.0, 9.2, 7.2,
    8.0, 6.8, 7.8, 6.5, 7.5, 6.8, 8.0, 6.6, 7.7, 6.4, 7.6, 6.9, 7.4, 6.2, 7.8, 6.5, 7.3, 6.0, 7.6, 6.4,
    7.6, 6.0, 7.4, 6.3, 7.7, 6.1, 7.5, 6.4, 7.8, 6.2, 7.5, 4.2, 7.7, 6.2, 9.4, 6.5, 8.0, 6.6, 8.5, 6.8,
    9.0, 6.7, 8.6, 7.2, 9.2, 6.9, 8.8, 7.4, 9.0, 8.2, 9.8, 8.6, 9.9, 8.8, 10.2, 8.7, 9.9, 8.6, 10.3, 8.9,
    9.8, 8.5, 10.1, 8.8, 9.6, 8.4, 10.0, 8.7, 9.9, 8.6, 10.0, 8.9, 9.7, 8.5, 10.2, 8.8, 9.9, 8.6, 10.1, 8.7,
    9.8, 8.6, 10.0, 8.4, 9.7, 8.8, 6.9, 8.7, 9.9, 8.6, 10.0, 8.9, 9.7, 8.5, 10.1, 8.8, 9.9, 8.6, 10.0, 8.7,
    10.1, 8.8, 10.5, 8.6, 9.9, 8.9, 10.3, 8.7, 9.8, 8.4, 9.6, 8.2, 9.4, 8.0, 9.7, 8.5, 9.5, 8.3, 9.9, 8.6,
    9.7, 8.4, 9.9, 8.2, 9.6, 8.0, 9.8, 8.5, 9.5, 8.3, 9.9, 8.6, 9.7, 8.4, 10.0, 8.7, 9.8, 8.5, 10.1, 8.8,
    10.0, 8.7, 9.7, 8.5, 10.1, 8.9, 9.8, 8.6, 10.2, 8.8, 9.9, 8.5, 10.0, 8.7, 9.6, 8.4, 9.9, 8.6, 10.1, 8.8,
    9.7, 8.5, 10.0, 8.7, 9.8, 8.6, 10.1, 8.4, 9.7, 8.8, 9.9, 8.6, 9.8, 8.7, 10.0, 8.5, 9.7, 8.8, 9.9, 8.6,
    9.8, 8.7, 10.1, 8.5, 9.7, 8.9, 10.0, 8.6, 9.8, 8.8, 10.1, 8.5, 9.7, 8.7, 10.0, 8.6, 9.9, 8.8, 10.2, 8.6,
    9.8, 8.6, 10.1, 8.8, 9.9, 8.5, 10.0, 8.7, 9.8, 8.6, 10.1, 8.9, 9.7, 8.5, 10.0, 8.7, 9.9, 8.6, 10.2, 8.8,
    9.8, 8.7, 10.1, 8.5, 9.7, 8.9, 10.0, 8.6, 9.8, 8.8, 10.1, 8.5, 9.7, 8.7, 6.8, 8.6, 9.9, 8.8, 10.2, 8.6,
    9.9, 8.7, 10.2, 8.6, 9.8, 8.4, 10.1, 8.8, 9.7, 8.5, 10.0, 8.7, 9.8, 8.6, 10.2, 8.8, 9.9, 8.5, 10.0, 8.7,
    9.7, 8.5, 10.0, 8.7, 9.9, 8.6, 10.2, 8.8, 9.8, 8.5, 10.0, 8.8, 9.8, 8.6, 10.1, 8.7, 9.9, 8.5, 10.1, 8.8,
    9.8, 8.6, 10.1, 8.8, 9.9, 8.5, 10.0, 8.7, 9.8, 8.6, 10.1, 8.9, 9.7, 8.5, 10.0, 8.7, 9.9, 8.6, 10.5, 8.8,
    9.7, 8.5, 10.0, 8.3, 9.8, 8.6, 10.0, 8.4, 9.6, 8.0, 9.4, 8.3, 9.7, 8.2, 9.5, 8.0, 9.3, 7.8, 9.6, 8.2,
    9.3, 7.8, 9.2, 7.0, 8.6, 6.8, 8.0, 7.2, 5.8, 7.6, 6.6, 7.8, 6.5, 7.5, 7.9, 6.8, 7.6, 6.5, 7.4, 6.7,
    7.0,
]
e225_r230 = [
    3.9, 3.6, 4.0, 3.5, 3.8, 6.0, 4.0, 4.8, 4.2, 5.5, 4.5, 5.8, 5.0, 6.5, 5.5, 8.5, 5.8, 7.6, 5.0, 8.0,
    5.5, 7.2, 4.8, 7.5, 5.2, 6.4, 4.6, 7.0, 5.0, 6.5, 4.8, 7.3, 4.2, 6.2, 4.6, 6.5, 4.0, 6.2, 4.4, 6.0,
    4.5, 6.8, 5.0, 7.0, 4.2, 6.5, 5.2, 7.2, 4.2, 6.8, 5.3, 6.5, 5.0, 7.3, 4.6, 6.8, 5.2, 7.0, 5.3, 6.6,
    5.0, 7.0, 4.8, 6.8, 3.7, 6.6, 5.0, 6.4, 4.2, 4.5, 4.0, 4.6, 4.1, 4.4, 4.0, 4.5, 4.2, 4.4, 3.9, 4.6,
    4.4, 4.0, 4.6, 4.1, 4.3, 3.9, 4.5, 4.0, 4.4, 4.1, 4.3, 3.9, 4.6, 4.0, 4.4, 4.1, 4.3, 3.9, 4.5, 4.0,
    4.5, 4.0, 4.3, 4.1, 4.6, 3.9, 4.4, 4.0, 4.5, 4.1, 4.3, 3.9, 4.7, 4.0, 4.4, 4.1, 4.3, 3.9, 4.5, 4.0,
    4.4, 4.1, 4.5, 3.9, 4.3, 4.0, 4.6, 4.1, 4.4, 3.9, 4.5, 4.0, 4.3, 4.1, 4.5, 3.9, 4.4, 4.0, 4.6, 4.1,
    4.3, 4.0, 4.5, 4.1, 4.4, 3.9, 4.6, 4.0, 4.3, 4.1, 4.5, 3.9, 4.4, 4.0, 4.5, 4.1, 4.3, 3.9, 4.6, 4.0,
    4.4, 4.0, 4.3, 3.9, 4.5, 4.1, 4.4, 4.0, 4.3, 4.0, 4.5, 4.1, 4.4, 3.9, 4.6, 4.0, 4.3, 4.1, 4.4, 4.0,
    4.5, 4.1, 4.3, 3.5, 4.4, 4.0, 4.6, 3.9, 4.3, 4.1, 4.5, 4.0, 4.4, 3.9, 4.5, 4.1, 4.3, 4.0, 4.6, 4.1,
    4.5, 4.1, 4.4, 3.9, 4.6, 4.0, 4.3, 4.1, 4.5, 3.9, 4.4, 4.0, 4.6, 4.1, 4.3, 3.9, 4.5, 4.0, 4.4, 4.1,
    4.4, 4.0, 4.6, 3.9, 4.3, 4.1, 4.5, 4.0, 4.4, 3.9, 4.6, 4.1, 4.3, 4.0, 4.5, 3.9, 4.4, 4.1, 4.6, 4.0,
    4.5, 4.0, 4.4, 4.1, 4.6, 3.9, 4.3, 4.1, 4.5, 4.0, 4.4, 4.1, 4.3, 3.9, 4.5, 4.0, 4.4, 4.1, 4.6, 4.0,
    4.4, 4.1, 5.5, 4.0, 4.5, 3.9, 4.3, 4.1, 4.6, 4.0, 4.4, 4.1, 4.3, 3.9, 4.5, 4.0, 4.4, 4.1, 4.6, 4.0,
    4.4, 4.0, 4.5, 4.1, 4.3, 5.9, 4.6, 3.9, 4.4, 4.0, 4.5, 4.1, 4.3, 3.9, 4.6, 4.0, 4.4, 4.1, 4.5, 4.0,
    4.4, 4.1, 4.6, 3.9, 4.3, 4.0, 4.5, 4.1, 4.4, 3.9, 4.6, 4.0, 4.3, 4.1, 4.5, 3.9, 4.4, 4.0, 4.6, 4.1,
    4.4, 4.0, 4.6, 4.1, 4.3, 4.0, 5.3, 4.2, 4.6, 3.9, 5.0, 4.1, 4.3, 5.4, 4.0, 5.2, 4.5, 4.1, 5.0, 4.3,
    5.5, 4.4, 5.0, 4.2, 5.3, 4.3, 4.8, 4.4, 5.2, 4.6, 5.8, 7.1, 5.0, 4.3, 4.8, 4.6, 5.0, 4.4, 5.2, 4.7,
    4.9,
]

panels = [
    ("A", "Hv1F VSD WT Gating Charge Salt Bridges", "upper left",
     [("D112-R205", d112_r205), ("D174-R208", d174_r208), ("E171-R208", e171_r208)]),
    ("B", "Hv1F VSD WT K157 Salt Bridges", "upper right",
     [("E153-K157", e153_k157), ("E164-K157", e164_k157),
      ("E171-K157", e171_k157), ("E225-K157", e225_k157)]),
    ("C", "Hv1F VSD WT K221 Salt Bridges", "upper right",
     [("E164-K221", e164_k221), ("E225-K221", e225_k221)]),
    ("D", "Hv1F VSD WT Other Salt Bridges", "upper right",
     [("D130-K131", d130_k131), ("E164-R230", e164_r230), ("E225-R230", e225_r230)]),
]

# Layout (figure fractions) and panel-letter anchors
axes_rects = [
    [0.0619, 0.5501, 0.4143, 0.4030],
    [0.5893, 0.5435, 0.4200, 0.4096],
    [0.0863, 0.0528, 0.4054, 0.3935],
    [0.6030, 0.0517, 0.4063, 0.3938],
]
letter_pos = [(0.0084, 0.9175), (0.5450, 0.9175), (0.0113, 0.4190), (0.5435, 0.4190)]

palette = sns.color_palette("tab10")
ALPHA = 0.6

fig = plt.figure(figsize=(11.85, 9.09), dpi=100)

for (letter, title, loc, series), rect, (lx, ly) in zip(panels, axes_rects, letter_pos):
    ax = fig.add_axes(rect)
    frames = []
    for name, vals in series:
        frames.append(pd.DataFrame({
            "time": np.linspace(60, 150, len(vals)),
            "distance": vals,
            "pair": name,
        }))
    df = pd.concat(frames, ignore_index=True)
    names = [n for n, _ in series]
    colors = palette[:len(names)]
    sns.lineplot(data=df, x="time", y="distance", hue="pair", hue_order=names,
                 palette=colors, alpha=ALPHA, linewidth=1.5, estimator=None,
                 sort=False, legend=False, ax=ax)
    ax.set_title(title, fontsize=20)
    ax.set_xlabel("time (ns)", fontsize=15.4)
    ax.set_ylabel(r"Distance ($\AA$)", fontsize=15.4)
    ax.tick_params(labelsize=9)
    handles = [Line2D([], [], color=c, alpha=ALPHA, linewidth=1.5) for c in colors]
    ax.legend(handles, names, loc=loc, shadow=True, fontsize=9.6)
    fig.text(lx, ly, letter, fontsize=20, fontweight="bold", ha="left", va="baseline")

fig.savefig("out.png", dpi=100)
